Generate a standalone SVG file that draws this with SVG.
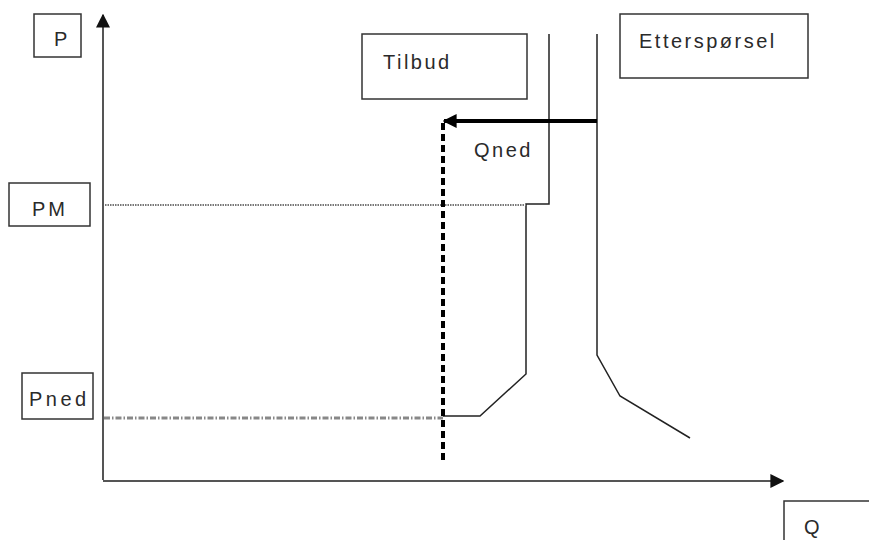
<svg xmlns="http://www.w3.org/2000/svg" width="869" height="540" viewBox="0 0 869 540">
  <style>
    .box { fill: #fff; stroke: #333; stroke-width: 1.5; }
    .lbl { font-family: "Liberation Sans", Arial, sans-serif; font-size: 20px; fill: #2a2a2a; }
    .curve { fill: none; stroke: #222; stroke-width: 1.5; }
    .axis { fill: none; stroke: #555; stroke-width: 2; }
  </style>
  <defs>
    <marker id="axisHead" viewBox="0 0 10 10" refX="9" refY="5" markerWidth="14" markerHeight="14" markerUnits="userSpaceOnUse" orient="auto">
      <path d="M0,0 L10,5 L0,10 z" fill="#111"/>
    </marker>
    <marker id="shiftHead" viewBox="0 0 10 10" refX="9" refY="5" markerWidth="14" markerHeight="14" markerUnits="userSpaceOnUse" orient="auto">
      <path d="M0,0 L10,5 L0,10 z" fill="#000"/>
    </marker>
  </defs>

  <!-- axes -->
  <g id="axes">
    <path class="axis" d="M103,480 L103,15" marker-end="url(#axisHead)"/>
    <path class="axis" d="M103,481 L783,481" marker-end="url(#axisHead)"/>
  </g>

  <!-- axis labels -->
  <g id="label-P">
    <rect class="box" x="34" y="14" width="47" height="43"/>
    <text class="lbl" x="54" y="46" font-size="19">P</text>
  </g>
  <g id="label-Q">
    <rect class="box" x="784" y="501" width="100" height="50"/>
    <text class="lbl" x="804" y="534" font-size="21">Q</text>
  </g>
  <g id="label-PM">
    <rect class="box" x="9" y="183" width="81" height="43"/>
    <text class="lbl" x="32" y="216" font-size="19" letter-spacing="3">PM</text>
  </g>
  <g id="label-Pned">
    <rect class="box" x="22" y="373" width="71" height="46"/>
    <text class="lbl" x="29" y="406" font-size="19" letter-spacing="3.5">Pned</text>
  </g>
  <g id="label-Tilbud">
    <rect class="box" x="362" y="34" width="165" height="65"/>
    <text class="lbl" x="383" y="69" font-size="22" letter-spacing="2.5">Tilbud</text>
  </g>
  <g id="label-Ettersporsel">
    <rect class="box" x="620" y="14" width="188" height="64"/>
    <text class="lbl" x="639" y="48" font-size="22" letter-spacing="2.5">Etterspørsel</text>
  </g>
  <g id="label-Qned">
    <text class="lbl" x="474" y="157" font-size="21" letter-spacing="2.5">Qned</text>
  </g>

  <!-- connectors: curves, reference lines and shift arrow -->
  <g id="connectors">
    <!-- supply curve -->
    <path class="curve" d="M549,34 L549,204 L526,204 L526,374 L480,416 L443,416"/>
    <!-- demand curve -->
    <path class="curve" d="M597,34 L597,355 L620,396 L690,438"/>
    <!-- price reference lines -->
    <path d="M105,205 L526,205" fill="none" stroke="#777" stroke-width="2" stroke-dasharray="1.5,1"/>
    <path d="M104,418 L443,418" fill="none" stroke="#888" stroke-width="3" stroke-dasharray="6,2,1.5,2"/>
    <!-- quantity reduction -->
    <path d="M597,121 L444,121" fill="none" stroke="#000" stroke-width="4" marker-end="url(#shiftHead)"/>
    <path d="M443,123 L443,463" fill="none" stroke="#000" stroke-width="4" stroke-dasharray="7,4"/>
  </g>
</svg>
